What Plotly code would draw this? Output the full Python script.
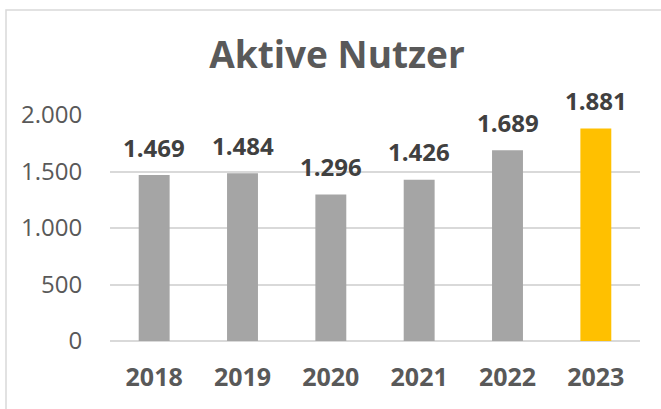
import plotly.graph_objects as go

years = ["2018", "2019", "2020", "2021", "2022", "2023"]
users = [1469, 1484, 1296, 1426, 1689, 1881]
bar_colors = ["#A5A5A5", "#A5A5A5", "#A5A5A5", "#A5A5A5", "#A5A5A5", "#FFC000"]
y_ticks = [0, 500, 1000, 1500, 2000]

W, H = 661, 409
L, R, T, B = 110, 21, 115, 68
pw = W - L - R
ph = H - T - B

fig = go.Figure()
fig.add_trace(go.Bar(
    x=years, y=users, marker=dict(color=bar_colors, line=dict(width=0)),
    width=0.35, hoverinfo="skip",
))

for i, v in enumerate(users):
    fig.add_annotation(
        x=i, y=v, text="<b>" + f"{v:,}".replace(",", ".") + "</b>", showarrow=False,
        yanchor="middle", yshift=28,
        font=dict(family="Open Sans", size=24, color="#404040"),
    )

# chart border (left & top visible)
fig.add_shape(
    type="rect", xref="paper", yref="paper", layer="below",
    x0=(6 - L) / pw, x1=(W + 20 - L) / pw,
    y0=-(B + 20) / ph, y1=1 + (T - 10) / ph,
    line=dict(color="#D9D9D9", width=1.5), fillcolor="rgba(0,0,0,0)",
)

fig.update_layout(
    width=W, height=H,
    margin=dict(l=L, r=R, t=T, b=B, autoexpand=False),
    paper_bgcolor="white", plot_bgcolor="white",
    separators=",.",
    showlegend=False,
    title=dict(
        text="<b>Aktive Nutzer</b>", x=337 / W, xanchor="center",
        y=1 - 55 / H, yanchor="middle", yref="container",
        font=dict(family="Open Sans", size=37, color="#595959"),
    ),
    xaxis=dict(
        type="category", range=[-0.5, len(years) - 0.5],
        tickvals=years, ticktext=["<b>" + y + "</b>" for y in years],
        tickfont=dict(family="Open Sans", size=25, color="#595959"),
        showgrid=False, showline=False, tickangle=0,
        ticks="outside", ticklen=14, tickcolor="rgba(0,0,0,0)",
        automargin=False,
    ),
    yaxis=dict(
        range=[0, 2000], tickvals=y_ticks, tickformat=",d",
        tickfont=dict(family="Open Sans", size=24, color="#595959"),
        showgrid=True, gridcolor="#D9D9D9", gridwidth=1.5,
        zeroline=True, zerolinecolor="#D9D9D9", zerolinewidth=1.5,
        showline=False,
        ticks="outside", ticklen=22, tickcolor="rgba(0,0,0,0)",
        automargin=False,
    ),
)

fig.write_html("out.html", config={"displayModeBar": False},
               post_script="document.body.style.margin='0';")
